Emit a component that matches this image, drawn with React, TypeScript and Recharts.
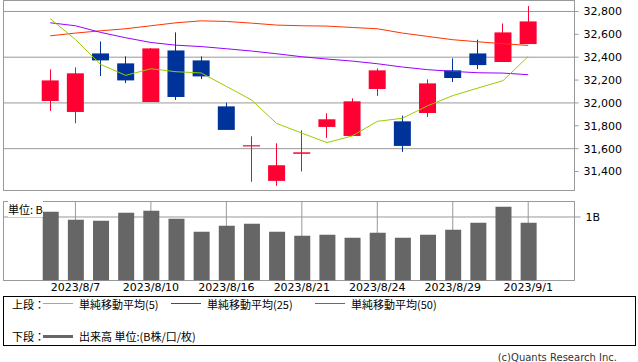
import React from "react";
import {
  ComposedChart,
  Bar,
  Line,
  XAxis,
  YAxis,
  CartesianGrid,
  ReferenceArea,
} from "recharts";

const dates = [
  "2023/8/4", "2023/8/7", "2023/8/8", "2023/8/9", "2023/8/10",
  "2023/8/14", "2023/8/15", "2023/8/16", "2023/8/17", "2023/8/18",
  "2023/8/21", "2023/8/22", "2023/8/23", "2023/8/24", "2023/8/25",
  "2023/8/28", "2023/8/29", "2023/8/30", "2023/8/31", "2023/9/1",
];
const openP = [32017, 31921, 32433, 32346, 32008, 32459, 32372, 31970, 31622, 31318, 31555, 31790, 31711, 32122, 31839, 31912, 32285, 32433, 32358, 32515];
const highP = [32293, 32311, 32538, 32407, 32480, 32617, 32407, 32002, 31708, 31647, 31761, 31909, 32040, 32302, 31889, 32206, 32390, 32553, 32695, 32847];
const lowP = [31930, 31822, 32235, 32174, 32008, 32026, 32209, 31764, 31310, 31275, 31400, 31694, 31711, 32061, 31572, 31877, 32183, 32296, 32358, 32515];
const closeP = [32197, 32259, 32372, 32197, 32477, 32052, 32232, 31764, 31630, 31455, 31568, 31857, 32014, 32285, 31624, 32171, 32218, 32331, 32617, 32713];
const ma5 = [32736, 32555, 32337, 32241, 32299, 32273, 32262, 32145, 32026, 31820, 31736, 31653, 31711, 31839, 31866, 31975, 32064, 32130, 32195, 32407];
const ma25 = [32701, 32675, 32617, 32570, 32529, 32505, 32493, 32474, 32454, 32430, 32404, 32384, 32366, 32343, 32314, 32291, 32276, 32264, 32261, 32247];
const ma50 = [32587, 32611, 32631, 32649, 32675, 32701, 32718, 32713, 32698, 32681, 32675, 32672, 32660, 32649, 32611, 32582, 32553, 32535, 32518, 32503];
// 出来高 (B)
const volume = [1.083, 0.957, 0.942, 1.068, 1.099, 0.973, 0.769, 0.863, 0.894, 0.769, 0.706, 0.721, 0.674, 0.753, 0.674, 0.721, 0.8, 0.91, 1.162, 0.91];

const priceTicks = [31400, 31600, 31800, 32000, 32200, 32400, 32600, 32800];
const dateTicks = [1, 4, 7, 10, 13, 16, 19];
const volumeTicks = [1];

const X_DOMAIN: [number, number] = [-1.86, 20.84];
const PRICE_DOMAIN: [number, number] = [31234, 32896];
const VOL_DOMAIN: [number, number] = [0, 1.244];

const UP = "#ff0033";
const DOWN = "#003399";
const GRID = "#999999";
const LATIN = "'DejaVu Sans', 'Noto Sans CJK JP', sans-serif";
const CJK = "'Noto Sans CJK JP', sans-serif";

const rows = dates.map((d, i) => ({
  i,
  date: d,
  open: openP[i],
  high: highP[i],
  low: lowP[i],
  close: closeP[i],
  ma5: ma5[i],
  ma25: ma25[i],
  ma50: ma50[i],
  volume: volume[i],
}));

function Candle(props: any) {
  const { x, y, width, height, payload } = props;
  if (x == null || y == null) return null;
  const { open, close, high, low } = payload;
  const color = close >= open ? UP : DOWN;
  const range = high - low || 1;
  const py = (v: number) => y + ((high - v) / range) * height;
  const top = py(Math.max(open, close));
  const bot = py(Math.min(open, close));
  const cx = Math.floor(x + width / 2) + 0.5;
  return (
    <g>
      <line x1={cx} x2={cx} y1={y} y2={y + height} stroke={color} strokeWidth={1} />
      <rect x={x} y={top} width={width} height={Math.max(1.2, bot - top)} fill={color} />
    </g>
  );
}

const legendText: React.CSSProperties = {
  position: "absolute",
  height: 16,
  lineHeight: "16px",
  fontSize: 11,
  fontFamily: CJK,
  color: "#000",
  whiteSpace: "nowrap",
};

function LegendLine({ left, top, color, h }: { left: number; top: number; color: string; h: number }) {
  return (
    <div style={{ position: "absolute", left, top: top - h / 2, width: 30, height: h, background: color }} />
  );
}

export default function App() {
  return (
    <div style={{ position: "absolute", left: 0, top: 0, width: 638, height: 362, background: "#fff" }}>
      <div style={{ position: "absolute", left: 0, top: 0 }}>
        <ComposedChart width={638} height={192} data={rows} margin={{ top: 0.5, right: 0, bottom: 1.5, left: 3.5 }}>
          <CartesianGrid stroke={GRID} />
          <XAxis
            dataKey="i"
            type="number"
            domain={X_DOMAIN}
            ticks={dateTicks}
            allowDataOverflow
            height={0}
            tick={false}
            axisLine={false}
            tickLine={false}
          />
          <YAxis
            orientation="right"
            width={63.5}
            domain={PRICE_DOMAIN}
            ticks={priceTicks}
            allowDataOverflow
            axisLine={false}
            tickSize={4}
            tickMargin={5}
            tickLine={{ stroke: GRID }}
            tick={{ fill: "#000", fontSize: 11, fontFamily: LATIN }}
            tickFormatter={(v: number) => v.toLocaleString("en-US")}
          />
          <ReferenceArea
            x1={X_DOMAIN[0]}
            x2={X_DOMAIN[1]}
            y1={PRICE_DOMAIN[0]}
            y2={PRICE_DOMAIN[1]}
            fill="none"
            fillOpacity={0}
            stroke={GRID}
            strokeOpacity={1}
          />
          <Bar
            dataKey={(d: any) => [d.low, d.high]}
            barSize={17}
            shape={<Candle />}
            isAnimationActive={false}
          />
          <Line dataKey="ma50" type="linear" stroke="#ff3300" strokeWidth={1} dot={false} isAnimationActive={false} />
          <Line dataKey="ma25" type="linear" stroke="#9900ff" strokeWidth={1} dot={false} isAnimationActive={false} />
          <Line dataKey="ma5" type="linear" stroke="#99cc00" strokeWidth={1} dot={false} isAnimationActive={false} />
        </ComposedChart>
      </div>

      <div style={{ position: "absolute", left: 0, top: 195 }}>
        <ComposedChart width={638} height={106} data={rows} margin={{ top: 6.5, right: 0, bottom: 0, left: 3.5 }}>
          <CartesianGrid stroke={GRID} />
          <XAxis
            dataKey="i"
            type="number"
            domain={X_DOMAIN}
            ticks={dateTicks}
            allowDataOverflow
            height={20.5}
            axisLine={false}
            tickLine={false}
            tickSize={0}
            tickMargin={3}
            tick={{ fill: "#000", fontSize: 11, fontFamily: LATIN }}
            tickFormatter={(v: number) => dates[v] ?? ""}
          />
          <YAxis
            orientation="right"
            width={63.5}
            domain={VOL_DOMAIN}
            ticks={volumeTicks}
            allowDataOverflow
            axisLine={false}
            tickSize={6}
            tickMargin={5}
            tickLine={{ stroke: GRID }}
            tick={{ fill: "#000", fontSize: 11, fontFamily: LATIN }}
            tickFormatter={(v: number) => `${v}B`}
          />
          <ReferenceArea
            x1={X_DOMAIN[0]}
            x2={X_DOMAIN[1]}
            y1={VOL_DOMAIN[0]}
            y2={VOL_DOMAIN[1]}
            fill="none"
            fillOpacity={0}
            stroke={GRID}
            strokeOpacity={1}
          />
          <Bar dataKey="volume" barSize={16} fill="#666666" isAnimationActive={false} />
        </ComposedChart>
      </div>

      <div style={{ ...legendText, left: 8, top: 201, background: "#fff" }}>単位: B</div>

      <div
        style={{
          position: "absolute",
          left: 3,
          top: 296,
          width: 633,
          height: 50,
          boxSizing: "border-box",
          border: "1px solid #000",
        }}
      />
      <div style={{ ...legendText, left: 12, top: 296 }}>上段：</div>
      <LegendLine left={43} top={303.5} color="#99cc00" h={1} />
      <div style={{ ...legendText, left: 79, top: 296 }}>単純移動平均(5)</div>
      <LegendLine left={171} top={303.5} color="#9900ff" h={1} />
      <div style={{ ...legendText, left: 207, top: 296 }}>単純移動平均(25)</div>
      <LegendLine left={315} top={303.5} color="#ff3300" h={1} />
      <div style={{ ...legendText, left: 351, top: 296 }}>単純移動平均(50)</div>

      <div style={{ ...legendText, left: 12, top: 328 }}>下段：</div>
      <LegendLine left={43} top={336} color="#666666" h={3} />
      <div style={{ ...legendText, left: 79, top: 328 }}>出来高 単位:(B株/口/枚)</div>

      <div
        style={{
          position: "absolute",
          right: 21,
          top: 350,
          height: 16,
          lineHeight: "16px",
          fontSize: 10,
          fontFamily: LATIN,
          color: "#333",
          whiteSpace: "nowrap",
        }}
      >
        (c)Quants Research Inc.
      </div>
    </div>
  );
}
